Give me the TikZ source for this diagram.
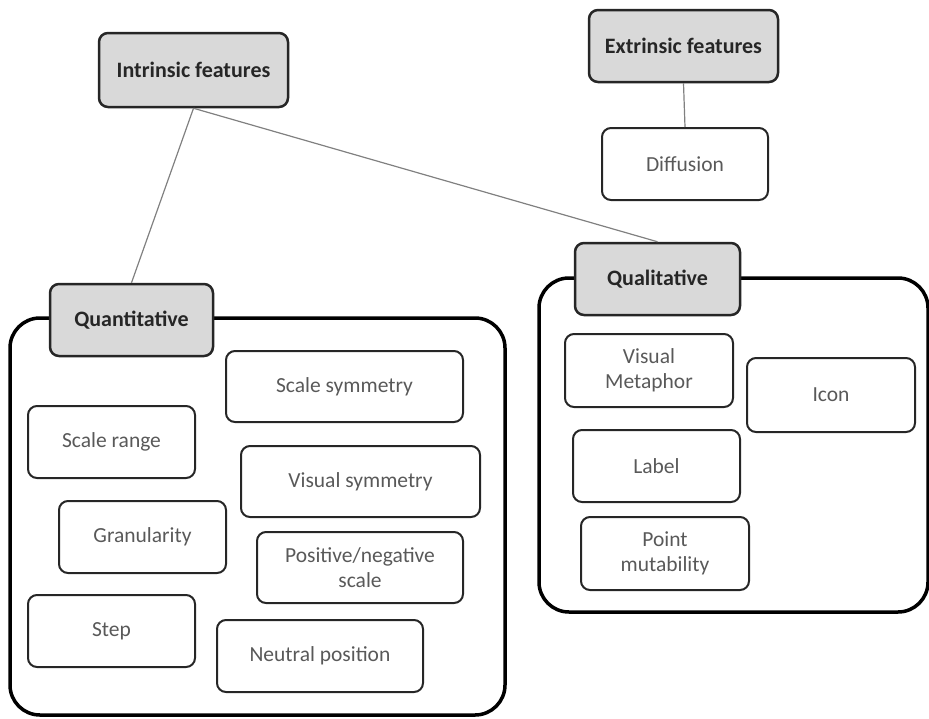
\documentclass[tikz,border=0pt]{standalone}
\usepackage{fontspec}
\setmainfont{Carlito}
\usepackage{tikz}
\usetikzlibrary{positioning}

\definecolor{headfill}{HTML}{D9D9D9}
\definecolor{itemtext}{HTML}{595959}
\definecolor{linkgray}{HTML}{808080}

\tikzset{
  head/.style={draw=black!85, line width=2.5pt, fill=headfill, rounded corners=9pt,
    inner sep=0pt, text=black!85, font=\fontsize{22}{26}\selectfont\bfseries},
  item/.style={draw=black!85, line width=2pt, rounded corners=9pt, inner sep=0pt,
    align=center, text=itemtext, font=\fontsize{21.5}{25}\selectfont},
  group/.style={draw=black, line width=3.5pt, rounded corners=30pt, inner sep=0pt},
  link/.style={draw=linkgray, line width=1.2pt}
}

\begin{document}
\begin{tikzpicture}[x=1pt, y=-1pt]
            \useasboundingbox (0,0) rectangle (929,718);

            % containers
            \node[group, minimum width=495pt, minimum height=397pt] (quantbox) at (257.5,516.5) {};
            \node[group, minimum width=389pt, minimum height=334pt] (qualbox) at (733.5,445) {};

            % top level
            \node[head, minimum width=189pt, minimum height=74pt] (intr) at (193.5,70) {Intrinsic features};
            \node[head, minimum width=189pt, minimum height=72pt] (extr) at (683.5,46) {Extrinsic features};
            \node[item, minimum width=166pt, minimum height=72pt] (diff) at (685,164) {Diffusion};

            % group headers
            \node[head, minimum width=163pt, minimum height=72pt] (quant) at (131.5,320) {Quantitative};
            \node[head, minimum width=165pt, minimum height=72pt] (qual) at (657.5,279) {Qualitative};

            % quantitative items
            \node[item, minimum width=237pt, minimum height=71pt] (scsym) at (344.5,386.5) {Scale symmetry};
            \node[item, minimum width=167pt, minimum height=72pt] (scrange) at (111.5,442) {Scale range};
            \node[item, minimum width=239pt, minimum height=71pt] (vissym) at (360.5,481.5) {Visual symmetry};
            \node[item, minimum width=167pt, minimum height=72pt] (gran) at (142.5,537) {Granularity};
            \node[item, minimum width=206pt, minimum height=71pt] (posneg) at (360,567.5) {Positive/negative\\scale};
            \node[item, minimum width=167pt, minimum height=72pt] (stepbox) at (111.5,631) {Step};
            \node[item, minimum width=206pt, minimum height=72pt] (neutral) at (320,656) {Neutral position};

            % qualitative items
            \node[item, minimum width=168pt, minimum height=73pt] (vismeta) at (649,370.5) {Visual\\Metaphor};
            \node[item, minimum width=168pt, minimum height=74pt] (icon) at (831,395) {Icon};
            \node[item, minimum width=167pt, minimum height=72pt] (label) at (656.5,466) {Label};
            \node[item, minimum width=168pt, minimum height=73pt] (pointmut) at (665,553.5) {Point\\mutability};

            \draw[link] (intr.south) -- (quant.north)
                        (intr.south) -- (qual.north)
                        (extr.south) -- (diff.north);
\end{tikzpicture}
\end{document}
